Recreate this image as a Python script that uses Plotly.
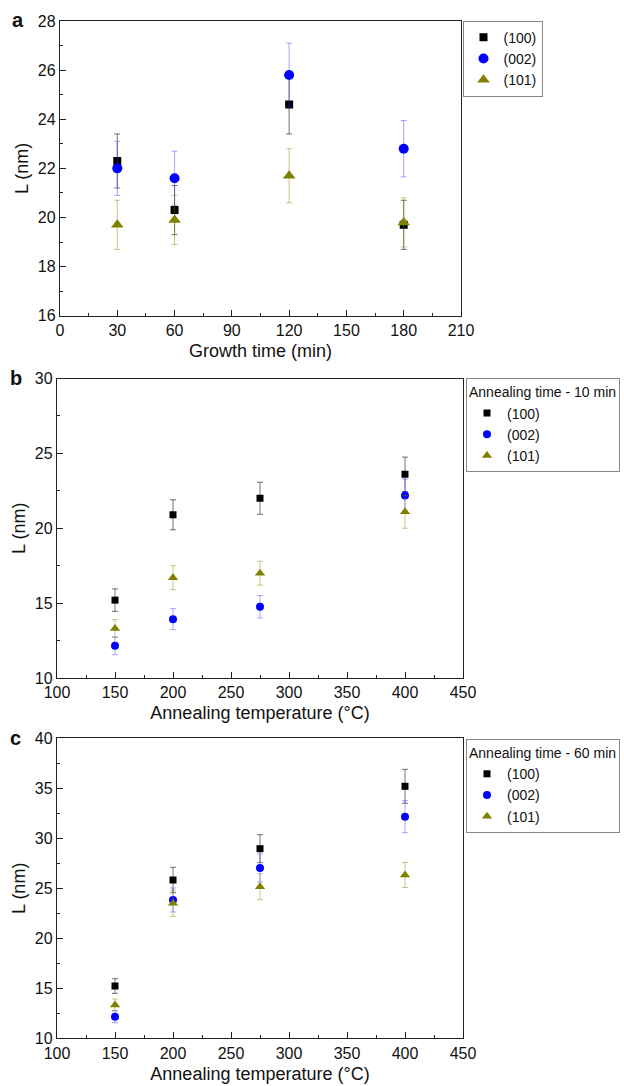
import plotly.graph_objects as go

W, H = 624, 1086

# ---- data ----
growth_time = [30, 60, 120, 180]
a_100 = [22.3, 20.3, 24.6, 19.7]
a_100_err = [1.1, 1.0, 1.2, 1.0]
a_002 = [22.0, 21.6, 25.8, 22.8]
a_002_err = [1.1, 1.1, 1.3, 1.15]
a_101 = [19.7, 19.9, 21.7, 19.8]
a_101_err = [1.0, 1.0, 1.1, 1.0]

anneal_temp = [150, 200, 275, 400]
b_100 = [15.2, 20.9, 22.0, 23.6]
b_100_err = [0.75, 1.0, 1.07, 1.15]
b_002 = [12.15, 13.93, 14.76, 22.18]
b_002_err = [0.6, 0.7, 0.75, 1.1]
b_101 = [13.3, 16.7, 17.0, 21.1]
b_101_err = [0.6, 0.8, 0.8, 1.1]

c_100 = [15.23, 25.83, 28.96, 35.2]
c_100_err = [0.73, 1.27, 1.4, 1.7]
c_002 = [12.16, 23.83, 27.03, 32.16]
c_002_err = [0.6, 1.2, 1.4, 1.6]
c_101 = [13.33, 23.5, 25.16, 26.33]
c_101_err = [0.6, 1.3, 1.3, 1.25]

labels = ["(100)", "(002)", "(101)"]
legend_titles = ["Annealing time - 10 min", "Annealing time - 60 min"]

FONT = "Liberation Sans, Arial, sans-serif"
colors = ["#000000", "#0000FF", "#808000"]
err_colors = ["rgba(0,0,0,0.55)", "rgba(60,60,255,0.45)", "rgba(128,128,0,0.45)"]
symbols = ["square", "circle", "triangle-up"]

fig = go.Figure()

panels = [
    ("x", "y", "legend", growth_time, [(a_100, a_100_err), (a_002, a_002_err), (a_101, a_101_err)], [8, 10, 11]),
    ("x2", "y2", "legend2", anneal_temp, [(b_100, b_100_err), (b_002, b_002_err), (b_101, b_101_err)], [7, 8, 9]),
    ("x3", "y3", "legend3", anneal_temp, [(c_100, c_100_err), (c_002, c_002_err), (c_101, c_101_err)], [7, 8, 9]),
]

for xa, ya, lg, xs, series, sizes in panels:
    for i, (vals, errs) in enumerate(series):
        fig.add_trace(go.Scatter(
            x=xs, y=vals, mode="markers", name=labels[i],
            xaxis=xa, yaxis=ya, legend=lg,
            marker=dict(symbol=symbols[i], color=colors[i], size=sizes[i], line=dict(width=0)),
            error_y=dict(type="data", array=errs, visible=True, color=err_colors[i], thickness=1, width=3),
        ))

def px_x(a, b):
    return [a / W, b / W]

def px_y(top, bottom):
    return [1 - bottom / H, 1 - top / H]

axis_common = dict(
    showline=True, linecolor="#222", linewidth=1.3, mirror=True,
    ticks="inside", ticklen=6, tickwidth=1, tickcolor="#222",
    showgrid=False, zeroline=False, automargin=False,
    tickfont=dict(family=FONT, size=16, color="#111"),
    title_font=dict(family=FONT, size=18, color="#111"),
)

fig.update_layout(
    width=W, height=H, margin=dict(l=0, r=0, t=0, b=0, autoexpand=False),
    paper_bgcolor="white", plot_bgcolor="white",
    font=dict(family=FONT, color="#111"),
    xaxis=dict(domain=px_x(60, 461), range=[0, 210], dtick=30, tick0=0,
               minor=dict(ticks="inside", ticklen=3, dtick=15, tickcolor="#222"),
               title=dict(text="Growth time (min)", standoff=6), anchor="y", **axis_common),
    yaxis=dict(domain=px_y(21, 315.7), range=[16, 28], dtick=2,
               minor=dict(ticks="inside", ticklen=3, dtick=1, tickcolor="#222"),
               title=dict(text="L (nm)", standoff=4), anchor="x", **axis_common),
    xaxis2=dict(domain=px_x(57, 463), range=[100, 450], dtick=50,
                minor=dict(ticks="inside", ticklen=3, dtick=25, tickcolor="#222"),
                title=dict(text="Annealing temperature (°C)", standoff=6), anchor="y2", **axis_common),
    yaxis2=dict(domain=px_y(378.5, 678), range=[10, 30], dtick=5,
                minor=dict(ticks="inside", ticklen=3, dtick=2.5, tickcolor="#222"),
                title=dict(text="L (nm)", standoff=4), anchor="x2", **axis_common),
    xaxis3=dict(domain=px_x(57, 463), range=[100, 450], dtick=50,
                minor=dict(ticks="inside", ticklen=3, dtick=25, tickcolor="#222"),
                title=dict(text="Annealing temperature (°C)", standoff=6), anchor="y3", **axis_common),
    yaxis3=dict(domain=px_y(738.3, 1038.3), range=[10, 40], dtick=5,
                minor=dict(ticks="inside", ticklen=3, dtick=2.5, tickcolor="#222"),
                title=dict(text="L (nm)", standoff=4), anchor="x3", **axis_common),
    legend=dict(x=462.5 / W, y=1 - 20.7 / H, xanchor="left", yanchor="top",
                bordercolor="#888", borderwidth=1, bgcolor="white",
                font=dict(family=FONT, size=14), tracegroupgap=0, itemwidth=30),
    legend2=dict(x=466 / W, y=1 - 378.3 / H, xanchor="left", yanchor="top",
                 bordercolor="#888", borderwidth=1, bgcolor="white",
                 title=dict(text=legend_titles[0], font=dict(family=FONT, size=14)),
                 font=dict(family=FONT, size=14), tracegroupgap=0, itemwidth=30),
    legend3=dict(x=466 / W, y=1 - 739 / H, xanchor="left", yanchor="top",
                 bordercolor="#888", borderwidth=1, bgcolor="white",
                 title=dict(text=legend_titles[1], font=dict(family=FONT, size=14)),
                 font=dict(family=FONT, size=14), tracegroupgap=0, itemwidth=30),
    showlegend=True,
)

for txt, xp, yp in [("a", 17.5, 19.5), ("b", 16, 378), ("c", 15, 738)]:
    fig.add_annotation(text=f"<b>{txt}</b>", x=xp / W, y=1 - yp / H, xref="paper", yref="paper",
                       showarrow=False, xanchor="center", yanchor="middle",
                       font=dict(family=FONT, size=20, color="#111"))

fig.write_html("out.html", config={"displayModeBar": False},
               post_script="document.body.style.margin='0';document.body.style.padding='0';")
